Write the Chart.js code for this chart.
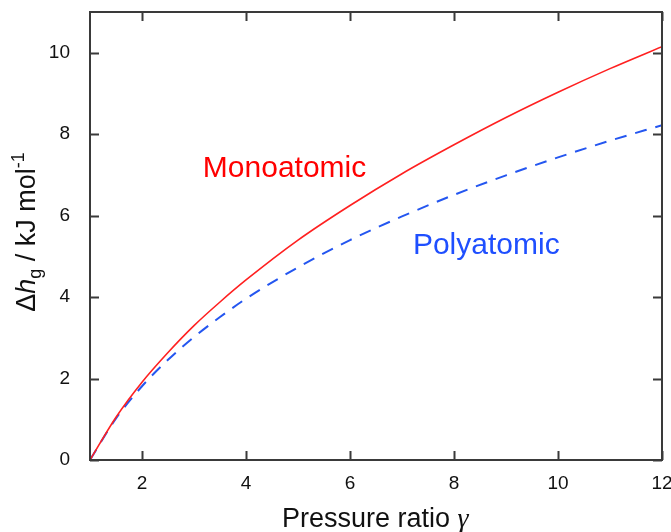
<!DOCTYPE html>
<html>
<head>
<meta charset="utf-8">
<script src="https://cdn.jsdelivr.net/npm/chart.js@4/dist/chart.umd.min.js"></script>
<style>
    html, body { margin: 0; padding: 0; background: #fff; }
    #wrap { width: 671px; height: 532px; }
</style>
</head>
<body>
<div id="wrap"><canvas id="chart" width="671" height="532"></canvas></div>
<script>
// pressure ratio (x) and enthalpy change (y)
var gammaValues = [1, 1.5, 2, 2.5, 3, 3.5, 4, 5, 6, 7, 8, 9, 10, 11, 12];
var monoatomic = [0, 1.05, 1.91, 2.64, 3.30, 3.88, 4.42, 5.40, 6.25, 7.03, 7.74, 8.41, 9.03, 9.61, 10.15];
var polyatomic = [0, 1.02, 1.81, 2.46, 3.02, 3.51, 3.96, 4.73, 5.40, 5.98, 6.51, 6.99, 7.43, 7.84, 8.22];

var xTicks = [2, 4, 6, 8, 10, 12];
var yTicks = [0, 2, 4, 6, 8, 10];

// in-plot labels: text and anchor in data units
var seriesLabels = ['Monoatomic', 'Polyatomic'];
var labelAnchors = [[3.17, 6.94], [7.21, 5.07]];
var labelColors = ['#ff0000', '#1f4fff'];

var SANS = '"Liberation Sans", Arial, sans-serif';
var AXIS_COLOR = '#3a3a3a';

function toPoints(xs, ys) {
    return xs.map(function (x, i) { return { x: x, y: ys[i] }; });
}

function drawRuns(ctx, runs, x, y) {
    // runs: [text, font, dy]
    runs.forEach(function (r) {
        ctx.font = r[1];
        ctx.fillText(r[0], x, y + r[2]);
        x += ctx.measureText(r[0]).width;
    });
}

function runsWidth(ctx, runs) {
    var w = 0;
    runs.forEach(function (r) {
        ctx.font = r[1];
        w += ctx.measureText(r[0]).width;
    });
    return w;
}

var framePlugin = {
    id: 'frame',
    afterDatasetsDraw: function (chart) {
        var ctx = chart.ctx;
        var a = chart.chartArea;
        var xs = chart.scales.x;
        var ys = chart.scales.y;
        var tl = 9;
        ctx.save();
        ctx.strokeStyle = AXIS_COLOR;
        ctx.lineWidth = 2;
        ctx.strokeRect(a.left, a.top, a.right - a.left, a.bottom - a.top);
        ctx.beginPath();
        xTicks.forEach(function (v) {
            var px = Math.round(xs.getPixelForValue(v)) + 0.5;
            ctx.moveTo(px, a.bottom);
            ctx.lineTo(px, a.bottom - tl);
            ctx.moveTo(px, a.top);
            ctx.lineTo(px, a.top + tl);
        });
        yTicks.forEach(function (v) {
            var py = Math.round(ys.getPixelForValue(v)) + 0.5;
            ctx.moveTo(a.left, py);
            ctx.lineTo(a.left + tl, py);
            ctx.moveTo(a.right, py);
            ctx.lineTo(a.right - tl, py);
        });
        ctx.stroke();

        // series labels inside the plot
        ctx.textAlign = 'left';
        ctx.textBaseline = 'alphabetic';
        ctx.font = '30px ' + SANS;
        seriesLabels.forEach(function (txt, i) {
            ctx.fillStyle = labelColors[i];
            ctx.fillText(txt, xs.getPixelForValue(labelAnchors[i][0]), ys.getPixelForValue(labelAnchors[i][1]));
        });

        // x axis title
        ctx.fillStyle = '#111';
        var xRuns = [
            ['Pressure ratio ', '27px ' + SANS, 0],
            ['\u03B3', 'italic 28px "Liberation Serif", "Times New Roman", serif', 0]
        ];
        drawRuns(ctx, xRuns, 282, 527);

        // y axis title, rotated
        var yRuns = [
            ['\u0394', '27px ' + SANS, 0],
            ['h', 'italic 27px ' + SANS, 0],
            ['g', '18px ' + SANS, 6],
            [' / kJ mol', '27px ' + SANS, 0],
            ['-1', '18px ' + SANS, -11]
        ];
        var w = runsWidth(ctx, yRuns);
        ctx.translate(35, 232);
        ctx.rotate(-Math.PI / 2);
        drawRuns(ctx, yRuns, -w / 2, 0);
        ctx.restore();
    }
};

new Chart(document.getElementById('chart').getContext('2d'), {
    type: 'line',
    data: {
        datasets: [
            {
                label: 'Monoatomic',
                data: toPoints(gammaValues, monoatomic),
                borderColor: '#ff2020',
                borderWidth: 1.6,
                pointRadius: 0,
                cubicInterpolationMode: 'monotone',
                fill: false
            },
            {
                label: 'Polyatomic',
                data: toPoints(gammaValues, polyatomic),
                borderColor: '#2456f0',
                borderWidth: 2,
                borderDash: [12, 9],
                pointRadius: 0,
                cubicInterpolationMode: 'monotone',
                fill: false
            }
        ]
    },
    options: {
        responsive: false,
        animation: false,
        layout: { padding: { top: 12, right: 9, left: 0, bottom: 0 } },
        plugins: {
            legend: { display: false },
            tooltip: { enabled: false }
        },
        scales: {
            x: {
                type: 'linear',
                min: 1,
                max: 12,
                grid: { display: false, drawTicks: false },
                border: { display: false },
                afterBuildTicks: function (s) {
                    s.ticks = xTicks.map(function (v) { return { value: v }; });
                },
                afterFit: function (s) {
                    s.height = 72;
                    s.paddingLeft = 0;
                    s.paddingRight = 0;
                },
                ticks: {
                    padding: 12,
                    maxRotation: 0,
                    color: '#111',
                    font: { family: SANS, size: 19 }
                }
            },
            y: {
                type: 'linear',
                min: 0,
                max: 11,
                grid: { display: false, drawTicks: false },
                border: { display: false },
                afterBuildTicks: function (s) {
                    s.ticks = yTicks.map(function (v) { return { value: v }; });
                },
                afterFit: function (s) {
                    s.width = 90;
                    s.paddingTop = 0;
                    s.paddingBottom = 0;
                },
                ticks: {
                    padding: 20,
                    color: '#111',
                    font: { family: SANS, size: 19 }
                }
            }
        }
    },
    plugins: [framePlugin]
});
</script>
</body>
</html>
